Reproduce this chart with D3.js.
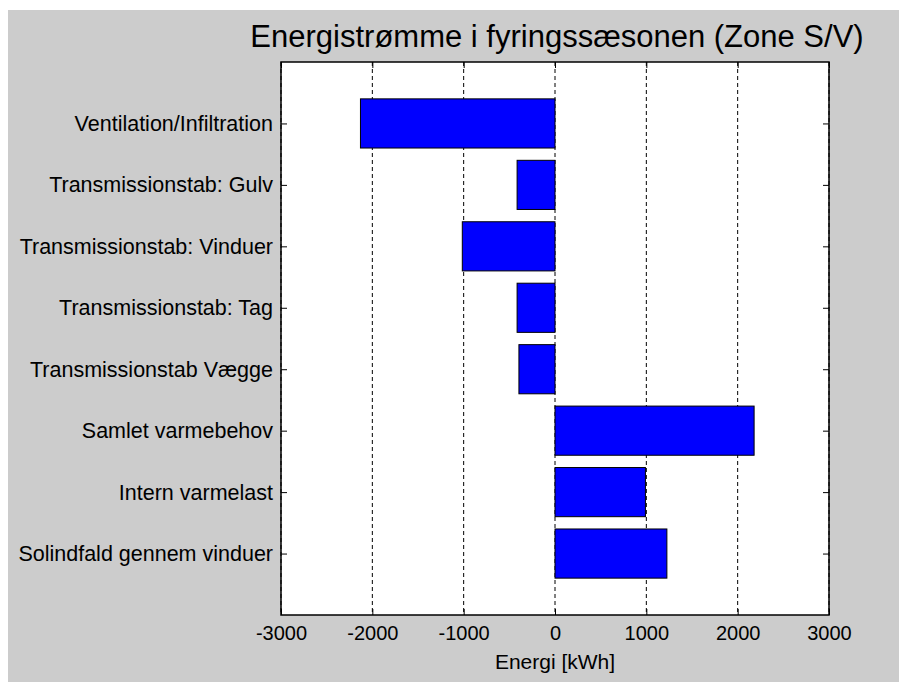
<!DOCTYPE html>
<html lang="da">
<head>
<meta charset="utf-8">
<title>Energistrømme</title>
<script src="https://d3js.org/d3.v7.min.js"></script>
<style>
  body { margin: 0; background: white; }
  text { font-family: 'Liberation Sans', Arial, sans-serif; fill: #000; }
  .grid line { stroke: #000; stroke-width: 1; stroke-dasharray: 4,3; }
  .bar { fill: #0000ff; stroke: #000; stroke-width: 1; }
</style>
</head>
<body>
<div id="container"></div>
<script>
// data
var categories = ["Ventilation/Infiltration", "Transmissionstab: Gulv", "Transmissionstab: Vinduer",
  "Transmissionstab: Tag", "Transmissionstab Vægge", "Samlet varmebehov",
  "Intern varmelast", "Solindfald gennem vinduer"];
var values = [-2130, -415, -1015, -415, -395, 2180, 990, 1225];
var xTicks = [-3000, -2000, -1000, 0, 1000, 2000, 3000];
var title = "Energistrømme i fyringssæsonen (Zone S/V)";
var xLabel = "Energi [kWh]";

var W = 899, H = 682;
var mLeft = 281, mRight = 829, mTop = 62, mBottom = 615;

var svg = d3.select("#container").append("svg")
  .attr("width", W).attr("height", H);

// grey figure background
svg.append("rect").attr("x", 8).attr("y", 10)
  .attr("width", W - 8).attr("height", H - 10)
  .attr("fill", "#cccccc");

var x = d3.scaleLinear().domain([-3000, 3000]).range([mLeft, mRight]);
// categories sit at 1..8 on a 0..9 axis
var y = d3.scaleLinear().domain([0, categories.length + 1]).range([mTop, mBottom]);
var barH = 0.8 * (y(1) - y(0));

// white axes box
svg.append("rect").attr("x", mLeft).attr("y", mTop)
  .attr("width", mRight - mLeft).attr("height", mBottom - mTop)
  .attr("fill", "white");

// dashed vertical grid
svg.append("g").attr("class", "grid")
  .selectAll("line").data(xTicks).enter().append("line")
  .attr("x1", d => x(d)).attr("x2", d => x(d))
  .attr("y1", mTop).attr("y2", mBottom);

// bars
svg.selectAll(".bar").data(values).enter().append("rect")
  .attr("class", "bar")
  .attr("x", d => x(Math.min(0, d)))
  .attr("width", d => Math.abs(x(d) - x(0)))
  .attr("y", (d, i) => y(i + 1) - barH / 2)
  .attr("height", barH);

// axes with inward ticks on all four sides
var tickLen = 6;
var font = "'Liberation Sans', Arial, sans-serif";
svg.append("g").attr("transform", "translate(0," + mBottom + ")")
  .call(d3.axisBottom(x).tickValues(xTicks).tickSizeInner(-tickLen).tickSizeOuter(0)
    .tickPadding(11).tickFormat(d => String(d)))
  .call(g => g.select(".domain").remove())
  .call(g => g.selectAll("text").attr("font-size", 20).attr("font-family", font));

svg.append("g").attr("transform", "translate(0," + mTop + ")")
  .call(d3.axisTop(x).tickValues(xTicks).tickSizeInner(-tickLen).tickSizeOuter(0).tickFormat(""))
  .call(g => g.select(".domain").remove());

var yTickVals = d3.range(1, categories.length + 1);
svg.append("g").attr("transform", "translate(" + mLeft + ",0)")
  .call(d3.axisLeft(y).tickValues(yTickVals).tickSizeInner(-tickLen).tickSizeOuter(0)
    .tickPadding(8).tickFormat(d => categories[d - 1]))
  .call(g => g.select(".domain").remove())
  .call(g => g.selectAll("text").attr("font-size", 21.5).attr("font-family", font));

svg.append("g").attr("transform", "translate(" + mRight + ",0)")
  .call(d3.axisRight(y).tickValues(yTickVals).tickSizeInner(-tickLen).tickSizeOuter(0).tickFormat(""))
  .call(g => g.select(".domain").remove());

svg.selectAll(".tick line").attr("stroke", "#000");

// box outline
svg.append("rect").attr("x", mLeft).attr("y", mTop)
  .attr("width", mRight - mLeft).attr("height", mBottom - mTop)
  .attr("fill", "none").attr("stroke", "#000").attr("stroke-width", 1.5);

// title and axis label
svg.append("text").attr("x", (mLeft + mRight) / 2 + 2).attr("y", 47)
  .attr("text-anchor", "middle").attr("font-size", 31).text(title);

svg.append("text").attr("x", (mLeft + mRight) / 2).attr("y", 669)
  .attr("text-anchor", "middle").attr("font-size", 21).text(xLabel);
</script>
</body>
</html>
